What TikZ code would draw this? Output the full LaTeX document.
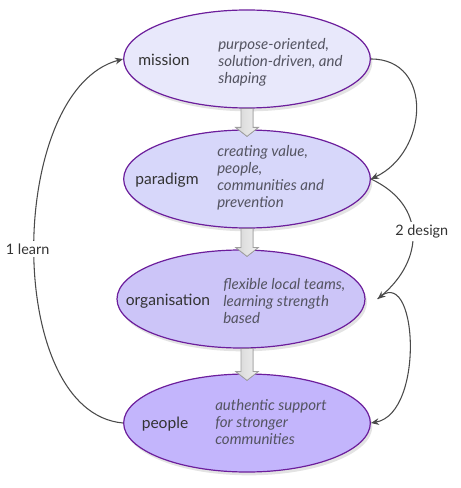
\documentclass[tikz,border=0pt]{standalone}
\usepackage{fontspec}
\setmainfont{Lato}
\usetikzlibrary{shapes.geometric,arrows.meta,shadows,calc}

\definecolor{rim}{HTML}{6C1E9C}
\definecolor{missionfill}{HTML}{E8E8FB}
\definecolor{paradigmfill}{HTML}{D7D7FA}
\definecolor{orgfill}{HTML}{CCC5F8}
\definecolor{peoplefill}{HTML}{C3B5FC}
\definecolor{lbltext}{HTML}{333333}
\definecolor{desctext}{HTML}{545461}
\definecolor{loopline}{HTML}{4A4A4A}

\begin{document}
\begin{tikzpicture}[x=0.75pt, y=-0.75pt,
    ell/.style={ellipse, draw=rim, line width=0.9pt, minimum width=185pt, minimum height=73.5pt, inner sep=0pt,
      drop shadow={opacity=0.22, shadow xshift=1.5pt, shadow yshift=-2.5pt}},
    lbl/.style={font=\fontsize{11.7}{13}\selectfont, text=lbltext, inner sep=0pt},
    desc/.style={anchor=west, align=left, font=\fontsize{11.3}{12.8}\selectfont\itshape, text=desctext, inner sep=0pt},
    loop/.style={draw=loopline, line width=0.8pt, -{Stealth[length=6pt,width=5pt]}},
    looplbl/.style={fill=white, font=\fontsize{10.8}{12}\selectfont, text=lbltext, inner sep=2pt},
    blockarrow/.style={left color=gray!32, right color=gray!12, draw=gray!75, line width=0.6pt}]

  \useasboundingbox (0,0) rectangle (460,488);

  % the four levels
  \node[ell, fill=missionfill] (mission) at (247,59) {};
  \node[ell, fill=paradigmfill] (paradigm) at (247,179) {};
  \node[ell, fill=orgfill, minimum width=186pt] (organisation) at (241,299) {};
  \node[ell, fill=peoplefill] (people) at (247,423) {};

  \node[lbl] (missionlbl) at (164,60) {mission};
  \node[desc] (missiondesc) at (218,62) {purpose-oriented,\\solution-driven, and\\shaping};

  \node[lbl] (paradigmlbl) at (167,180) {paradigm};
  \node[desc] (paradigmdesc) at (217,178) {creating value,\\people,\\communities and\\prevention};

  \node[lbl] (organisationlbl) at (168,301) {organisation};
  \node[desc] (organisationdesc) at (223,301) {flexible local teams,\\learning strength\\based};

  \node[lbl] (peoplelbl) at (165,424) {people};
  \node[desc] (peopledesc) at (215,422) {authentic support\\for stronger\\communities};

  % block arrows down the middle
  \foreach \a/\b in {mission/paradigm, paradigm/organisation, organisation/people}
    \filldraw[blockarrow] let \p1=(\a.south -| mission.south), \p2=(\b.north -| mission.south) in
      (\x1-4.5pt,\y1) -- (\x1-4.5pt,\y2+1.5pt) -- (\x1-8.6pt,\y2+1.5pt) -- (\x1,\y2-5.25pt)
      -- (\x1+8.6pt,\y2+1.5pt) -- (\x1+4.5pt,\y2+1.5pt) -- (\x1+4.5pt,\y1);

  % loops
  \coordinate (orgdock) at ([xshift=9pt]organisation.east);

  \draw[loop] (people.west) to[out=175, in=195, looseness=0.85]
    node[looplbl, xshift=-5pt] (learn) {1 learn} (mission.west);

  \draw[loop] (mission.east) to[out=0, in=25, looseness=1.35] (paradigm.east);
  \draw[loop] (paradigm.east) to[out=-25, in=40, looseness=1.3]
    node[looplbl, xshift=7pt, pos=0.48] (design) {2 design} (orgdock);
  \draw[loop] (orgdock) to[out=45, in=10, looseness=1.15] (people.east);
\end{tikzpicture}
\end{document}
